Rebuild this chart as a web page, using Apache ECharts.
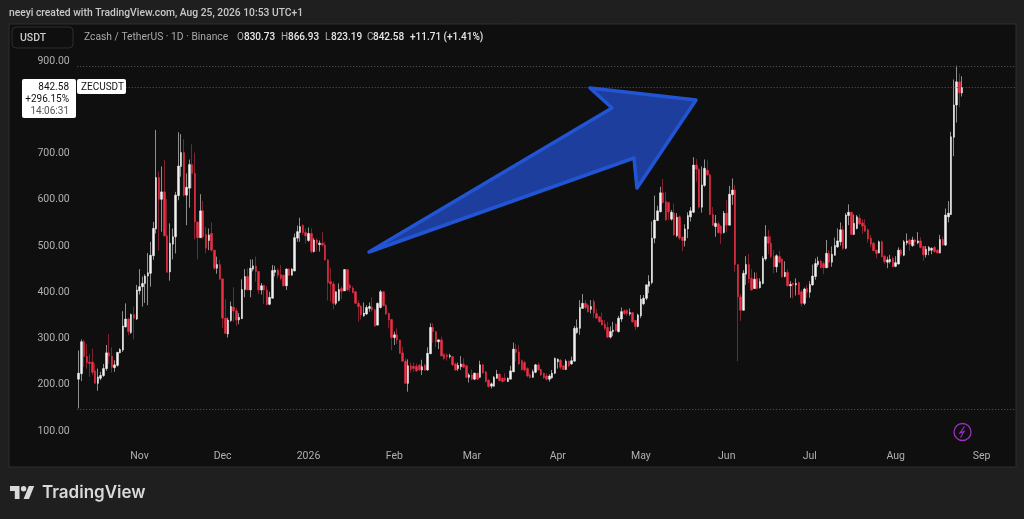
<!DOCTYPE html>
<html>
<head>
<meta charset="utf-8">
<style>html,body{margin:0;padding:0;background:#1f1f1f}#c{width:1024px;height:519px}</style>
<script src="https://cdn.jsdelivr.net/npm/echarts@6/dist/echarts.min.js"></script>
</head>
<body>
<div id="c"></div>
<script>
var firstDay = Date.UTC(2025, 9, 10);
var slotCount = 339;
var tickDates = ['2025-11-01','2025-12-01','2026-01-01','2026-02-01','2026-03-01','2026-04-01','2026-05-01','2026-06-01','2026-07-01','2026-08-01','2026-09-01'];
var tickLabels = ['Nov','Dec','2026','Feb','Mar','Apr','May','Jun','Jul','Aug','Sep'];
var priceTicks = [100,200,300,400,500,600,700,800,900];
var visibleHigh = 889.5;
var visibleLow = 147.6;
var lastClose = 842.58;

var open = [212,224,293,261,249,249,230,203,214,220,235,269,262,237,242,269,275,325,342,313,352,342,403,412,419,435,441,479,537,648,601,617,522,444,504,520,609,672,702,610,625,676,657,552,518,576,
525,512,527,491,452,460,429,344,310,339,368,360,340,343,406,434,405,450,457,445,405,415,405,374,387,443,448,438,437,414,450,437,446,517,529,545,529,512,527,488,513,503,506,502,470,423,418,
376,382,408,403,449,415,409,401,376,370,349,353,365,367,362,329,367,401,372,354,341,302,308,297,269,251,203,241,240,240,242,232,242,232,267,324,315,293,297,266,264,261,261,245,235,239,245,
241,216,221,212,225,216,243,228,210,197,197,214,223,214,214,207,212,228,277,271,252,248,235,221,216,227,243,233,225,219,212,215,225,250,253,241,233,251,245,251,313,322,365,376,372,363,380,
354,347,340,331,324,303,315,331,315,342,360,361,353,356,339,326,349,375,387,413,421,517,555,574,615,596,594,558,571,522,563,519,512,537,563,573,675,666,584,631,664,654,568,542,548,543,529,
571,545,611,621,460,390,361,439,460,430,408,430,410,419,472,520,506,477,455,477,472,434,443,414,419,416,421,401,376,408,400,416,434,460,467,462,453,484,465,480,498,509,535,495,566,573,525,
538,560,550,545,535,517,506,491,485,509,478,465,466,473,456,461,491,480,507,513,501,513,507,511,499,481,490,491,497,491,485,514,502,563,568,735,805,855,830.73];
var high = [274,298,297,289,266,278,246,235,228,245,286,310,281,253,271,279,359,376,344,354,369,416,450,434,439,485,509,552,751,661,672,686,602,549,538,617,746,742,731,657,687,720,702,552,612,597,
541,538,551,492,477,470,429,385,345,380,411,366,355,428,450,452,471,471,477,445,420,416,414,401,459,457,452,459,437,452,452,452,527,544,561,547,538,540,538,517,517,512,531,509,471,452,423,
402,419,413,450,450,419,413,403,382,372,378,372,378,389,365,378,405,403,375,356,342,315,322,297,282,257,255,248,248,246,245,254,245,281,333,333,315,298,304,268,268,267,262,248,248,262,257,
243,225,233,226,226,252,245,230,212,205,219,232,225,216,225,216,241,291,288,286,255,252,238,225,233,245,248,235,226,225,223,232,259,257,256,243,255,252,261,327,341,383,396,383,375,383,385,
364,349,356,340,336,326,336,333,349,367,363,363,365,357,340,354,394,394,417,437,553,609,587,628,645,617,596,578,592,571,566,521,547,573,584,692,688,668,672,687,685,656,584,567,553,545,576,
600,630,646,632,460,396,448,478,483,450,443,443,430,478,545,535,522,491,482,489,473,467,450,424,421,430,423,405,410,416,424,460,473,477,470,467,513,491,499,518,538,551,544,571,590,574,568,
567,569,558,558,538,524,509,493,512,512,481,477,481,477,478,497,494,513,527,516,520,516,530,519,500,500,500,497,500,493,524,520,581,597,747,860,890,873,866.93];
var low = [149,208,239,235,217,221,203,187,210,217,230,245,226,228,239,268,271,324,307,310,298,340,395,369,377,372,412,470,527,490,531,520,443,425,471,484,599,650,607,545,583,625,514,471,518,516,
484,491,488,448,440,428,322,310,302,336,336,327,331,342,389,405,389,445,423,396,395,375,372,372,387,434,430,426,412,405,435,436,445,509,509,524,505,509,484,486,488,488,499,468,382,380,363,
372,380,385,403,403,401,398,376,336,341,347,351,358,358,326,328,365,369,351,322,275,286,288,267,250,203,185,226,228,228,230,221,230,230,267,291,281,277,262,254,252,257,241,230,230,232,236,
214,205,210,210,210,215,225,205,194,192,196,213,207,205,207,206,212,227,250,243,230,228,216,213,215,225,230,219,213,209,207,213,223,235,233,232,232,238,243,250,310,308,365,363,356,354,344,
343,335,328,318,301,300,305,315,313,336,351,349,349,334,318,324,344,372,383,398,417,506,555,573,592,555,556,555,522,519,513,489,499,517,553,571,639,581,572,628,651,567,543,520,527,504,527,
530,545,589,444,251,338,361,416,420,403,407,405,408,417,468,482,473,441,443,462,431,432,412,388,387,393,394,369,372,388,388,414,427,455,452,439,452,453,455,479,496,501,491,493,545,524,524,
536,545,526,531,507,497,488,473,484,475,461,452,462,454,454,460,477,478,502,490,498,500,504,495,468,475,480,482,485,484,484,500,500,551,567,694,767,800,823.19];
var close = [225,293,261,248,246,227,203,217,220,235,269,262,238,243,270,276,327,342,315,352,344,405,412,419,435,442,480,538,648,601,617,522,443,506,520,610,673,702,610,627,676,657,552,518,576,520,
495,524,491,452,460,428,344,311,340,369,360,340,346,406,434,405,452,457,445,405,414,405,373,389,447,448,437,430,414,450,437,450,518,531,542,529,522,527,488,513,506,506,502,470,421,418,376,
401,406,402,449,405,409,399,376,369,351,355,367,369,362,327,376,401,371,353,340,302,308,297,268,251,203,241,233,235,230,232,239,232,268,324,315,293,297,262,257,261,263,243,232,242,245,238,
216,221,212,225,212,243,225,207,196,202,216,223,209,207,210,214,230,277,270,245,233,232,219,216,228,243,232,221,215,212,219,225,257,255,238,233,251,241,252,322,323,367,376,367,358,369,355,
344,336,329,322,303,315,318,317,344,358,354,354,356,336,326,351,385,387,416,423,517,556,576,615,594,556,574,573,524,562,517,512,537,566,576,675,666,584,632,668,654,568,545,549,529,527,571,
545,612,621,460,390,361,441,460,429,405,428,408,423,473,520,506,477,455,479,465,434,443,414,417,416,419,395,376,407,400,417,435,462,467,453,453,484,465,482,501,511,535,495,567,573,525,549,
563,548,543,532,515,504,490,484,509,477,466,470,471,455,464,491,482,509,511,504,513,509,511,497,481,493,497,495,488,485,514,502,567,571,736,805,855,831,842.58];

var categories = [];
for (var d = 0; d < slotCount; d++) {
  categories.push(new Date(firstDay + d * 86400000).toISOString().slice(0, 10));
}
var wickData = open.map(function (o, i) { return [o, close[i], low[i], high[i]]; });
var bodyData = open.map(function (o, i) {
  return [o, close[i], Math.min(o, close[i]), Math.max(o, close[i])];
});

var chart = echarts.init(document.getElementById('c'), null, { renderer: 'canvas' });
var uiFont = 'Roboto, "Open Sans", sans-serif';

function txt(x, y, s, fill, size, weight, align) {
  return { type: 'text', z: 50, silent: true, x: x, y: y,
    style: { text: s, fill: fill, font: (weight || 400) + ' ' + (size || 11) + 'px ' + uiFont,
             textAlign: align || 'left', textVerticalAlign: 'middle' } };
}
var gray = '#a9a9a9', white = '#e6e6e6';
var logoFill = '#d9d9d9';
var graphics = [
  { type: 'rect', z: -10, silent: true, shape: { x: 9, y: 24, width: 1007, height: 443 },
    style: { fill: '#0f0f0f', stroke: '#2e2e2e', lineWidth: 1 } },
  txt(9, 13.5, 'neeyi created with TradingView.com, Aug 25, 2026 10:53 UTC+1', '#c9c9c9', 10.3, 500),
  { type: 'rect', z: 40, silent: true, shape: { x: 12, y: 27, width: 61, height: 21, r: 4 },
    style: { fill: '#0f0f0f', stroke: '#2e2e2e', lineWidth: 1 } },
  txt(20, 38, 'USDT', '#c9c9c9', 10.5, 500),
  txt(84, 37, 'Zcash / TetherUS · 1D · Binance', '#a9a9a9', 10.3),
  txt(237, 37, 'O', gray, 10), txt(244, 37, '830.73', white, 10, 500),
  txt(281, 37, 'H', gray, 10), txt(288, 37, '866.93', white, 10, 500),
  txt(325, 37, 'L', gray, 10), txt(331, 37, '823.19', white, 10, 500),
  txt(367, 37, 'C', gray, 10), txt(373, 37, '842.58', white, 10, 500),
  txt(410, 37, '+11.71 (+1.41%)', white, 10, 500),
  { type: 'polygon', z: 30, silent: true,
    shape: { points: [[369,252],[612,108],[590,88],[696,100],[637,188],[634,158]] },
    style: { fill: '#1d3e9c', stroke: '#2255d4', lineWidth: 3.5, lineJoin: 'round' } },
  { type: 'rect', z: 45, silent: true, shape: { x: 22, y: 79, width: 54, height: 39, r: 2 }, style: { fill: '#ffffff' } },
  { type: 'rect', z: 45, silent: true, shape: { x: 77, y: 79, width: 49, height: 15, r: 2 }, style: { fill: '#ffffff' } },
  txt(69, 87, '842.58', '#111', 10, 400, 'right'),
  txt(69, 99, '+296.15%', '#111', 10, 400, 'right'),
  txt(69, 111, '14:06:31', '#555', 10, 400, 'right'),
  txt(81, 87, 'ZECUSDT', '#111', 10),
  { type: 'circle', z: 40, silent: true, shape: { cx: 962.5, cy: 432, r: 8.5 },
    style: { fill: 'none', stroke: '#9a2fc0', lineWidth: 1.3 } },
  { type: 'polyline', z: 40, silent: true, shape: { points: [[964.5,426.5],[960,433],[964,431.5],[960.5,437.5]] },
    style: { fill: 'none', stroke: '#9a2fc0', lineWidth: 1.2 } },
  { type: 'polygon', z: 40, silent: true, shape: { points: [[10,486],[19.5,486],[19.5,499],[14.8,499],[14.8,491],[10,491]] }, style: { fill: logoFill } },
  { type: 'polygon', z: 40, silent: true, shape: { points: [[23.6,499],[29,499],[34.2,486],[28.8,486]] }, style: { fill: logoFill } },
  { type: 'circle', z: 40, silent: true, shape: { cx: 23.6, cy: 488.7, r: 2.7 }, style: { fill: logoFill } },
  { type: 'text', z: 40, silent: true, x: 42, y: 493,
    style: { text: 'TradingView', fill: logoFill, font: '600 17px Inter, Roboto, sans-serif', textVerticalAlign: 'middle' } }
];

chart.setOption({
  animation: false,
  backgroundColor: '#1f1f1f',
  grid: { left: 77.2, right: 7.8, top: 61, bottom: 88, containLabel: false },
  xAxis: {
    type: 'category', data: categories, boundaryGap: true,
    axisLine: { show: false }, axisTick: { show: false }, splitLine: { show: false },
    axisLabel: {
      color: '#b0b0b0', fontFamily: uiFont, fontSize: 10.5, margin: 20, hideOverlap: false,
      interval: function (i, v) { return tickDates.indexOf(v) >= 0; },
      formatter: function (v) { var k = tickDates.indexOf(v); return k >= 0 ? tickLabels[k] : ''; }
    }
  },
  yAxis: {
    type: 'value', min: priceTicks[0], max: priceTicks[priceTicks.length - 1], interval: 100,
    scale: false, axisLine: { show: false }, axisTick: { show: false }, splitLine: { show: false },
    axisLabel: { color: '#b0b0b0', fontFamily: uiFont, fontSize: 10.5, margin: 7.5, padding: [4, 0, 0, 0],
      formatter: function (v) { return v.toFixed(2); } }
  },
  series: [
    {
      name: 'wicks', type: 'candlestick', data: wickData, barWidth: 1, clip: false, z: 3,
      itemStyle: { color: '#8f8f8f', color0: '#7c2230', borderColor: '#8f8f8f', borderColor0: '#7c2230', borderWidth: 1 },
      markLine: {
        silent: true, symbol: 'none', animation: false, label: { show: false },
        lineStyle: { type: [1, 2], color: '#5a5a5a', width: 1 },
        data: [
          { yAxis: visibleHigh },
          { yAxis: visibleLow },
          [{ xAxis: 17, yAxis: lastClose }, { xAxis: slotCount - 1, yAxis: lastClose }]
        ]
      }
    },
    {
      name: 'bodies', type: 'candlestick', data: bodyData, barWidth: 2, clip: false, z: 4,
      itemStyle: { color: '#f2f2f2', color0: '#ee2f44', borderColor: '#f2f2f2', borderColor0: '#ee2f44', borderWidth: 0.5 }
    }
  ],
  graphic: { elements: graphics }
});
</script>
</body>
</html>
